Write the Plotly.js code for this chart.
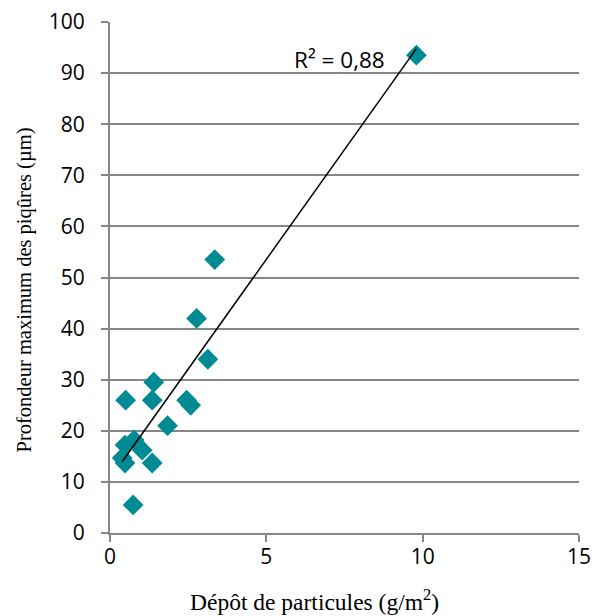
<!DOCTYPE html>
<html>
<head>
<meta charset="utf-8">
<script src="https://cdn.plot.ly/plotly-3.0.1.min.js"></script>
<style>html,body{margin:0;padding:0;background:#fff;}#chart{width:593px;height:616px;}</style>
</head>
<body>
<div id="chart"></div>
<script>
// Dépôt de particules (g/m²)
const depot = [9.8, 3.35, 2.77, 3.13, 1.4, 0.5, 1.35, 2.45, 2.58, 1.84, 0.48, 0.77, 1.03, 0.39, 0.48, 1.35, 0.74];
// Profondeur maximum des piqûres (µm)
const profondeur = [93.5, 53.5, 42, 34, 29.5, 26, 26, 26, 25, 21, 17.2, 18.2, 16.2, 14.7, 13.7, 13.7, 5.5];
const r2Label = "R² = 0,88";
const xTitle = "Dépôt de particules (g/m<sup>2</sup>)";
const yTitle = "Profondeur maximum des piqûres (µm)";

// least-squares linear trendline from the data
const n = depot.length;
const mx = depot.reduce((a, b) => a + b, 0) / n;
const my = profondeur.reduce((a, b) => a + b, 0) / n;
let sxy = 0, sxx = 0;
for (let i = 0; i < n; i++) { sxy += (depot[i] - mx) * (profondeur[i] - my); sxx += (depot[i] - mx) ** 2; }
const slope = sxy / sxx, intercept = my - slope * mx;
const xmin = Math.min(...depot), xmax = Math.max(...depot);
const trendX = [xmin, xmax];
const trendY = trendX.map(x => intercept + slope * x);

const axisColor = "#868686";
const data = [
  {x: depot, y: profondeur, mode: "markers", type: "scatter",
   marker: {symbol: "diamond", size: 16, color: "#008B94", line: {width: 0}}},
  {x: trendX, y: trendY, mode: "lines", type: "scatter", line: {color: "#000", width: 1.5}, hoverinfo: "skip"}
];
const layout = {
  width: 593, height: 616,
  margin: {l: 110, r: 14, t: 22, b: 83},
  paper_bgcolor: "#fff", plot_bgcolor: "#fff",
  showlegend: false,
  font: {family: "Open Sans, sans-serif", color: "#000"},
  xaxis: {
    range: [0, 15], tickvals: [0, 5, 10, 15], ticktext: ["0", "5", "10", "15"],
    showgrid: false, zeroline: false, showline: true, linecolor: axisColor, linewidth: 2,
    ticks: "outside", ticklen: 7, tickwidth: 2, tickcolor: axisColor, ticklabelstandoff: -3,
    tickfont: {family: "Open Sans, sans-serif", size: 21, color: "#000"}
  },
  yaxis: {
    range: [0, 100], tickvals: [0,10,20,30,40,50,60,70,80,90,100],
    showgrid: true, gridcolor: axisColor, gridwidth: 2, zeroline: false,
    showline: true, linecolor: axisColor, linewidth: 2,
    ticks: "outside", ticklen: 7, tickwidth: 2, tickcolor: axisColor, ticklabelstandoff: 12,
    tickfont: {family: "Open Sans, sans-serif", size: 21, color: "#000"}
  },
  annotations: [
    {x: 7.35, y: 92.6, xref: "x", yref: "y", text: r2Label, showarrow: false,
     font: {family: "Open Sans, sans-serif", size: 22.5, color: "#000"}},
    {x: 0.437, y: -0.131, xref: "paper", yref: "paper", xanchor: "center", yanchor: "middle",
     text: xTitle, showarrow: false,
     font: {family: "Liberation Serif, serif", size: 23.5, color: "#000"}},
    {x: -0.183, y: 0.475, xref: "paper", yref: "paper", xanchor: "center", yanchor: "middle",
     text: yTitle, textangle: -90, showarrow: false,
     font: {family: "Liberation Serif, serif", size: 20.5, color: "#000"}}
  ]
};
Plotly.newPlot("chart", data, layout, {displayModeBar: false, staticPlot: true});
</script>
</body>
</html>
